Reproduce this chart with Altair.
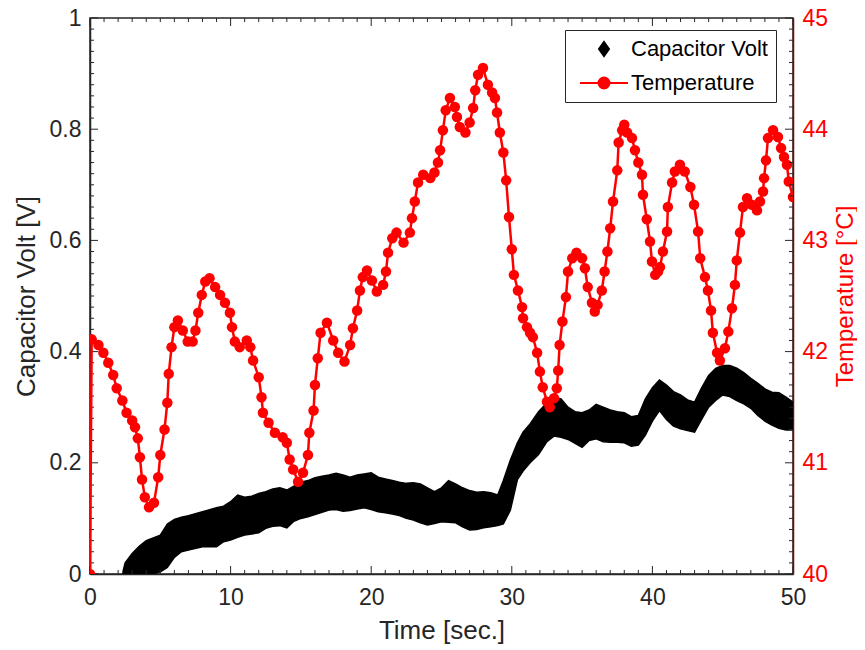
import altair as alt
import pandas as pd

# ---------------- data ----------------
temp_t = [0.0, 0.12, 0.6, 0.95, 1.3, 1.65, 1.9, 2.3, 2.6, 3.0, 3.2, 3.4, 3.55, 3.7, 3.9, 4.2, 4.55, 4.85, 5.0, 5.3,
          5.5, 5.6, 5.8, 6.0, 6.25, 6.6, 6.95, 7.3, 7.5, 7.7, 7.95, 8.2, 8.5, 8.9, 9.25, 9.6, 9.95, 10.1, 10.3, 10.65,
          11.15, 11.4, 11.6, 12.0, 12.2, 12.3, 12.7, 13.15, 13.7, 14.0, 14.2, 14.45, 14.8, 15.15, 15.5, 15.6, 15.9, 16.0, 16.2, 16.4,
          16.85, 17.3, 17.65, 18.1, 18.5, 18.7, 19.0, 19.2, 19.4, 19.7, 20.05, 20.4, 20.85, 21.05, 21.2, 21.5, 21.8, 22.3, 22.75, 22.9,
          23.1, 23.33, 23.7, 24.2, 24.5, 24.75, 24.9, 25.1, 25.3, 25.6, 25.95, 26.1, 26.3, 26.7, 27.0, 27.25, 27.4, 27.6, 27.95, 28.3,
          28.6, 28.8, 28.95, 29.15, 29.4, 29.6, 29.8, 30.0, 30.15, 30.44, 30.73, 30.8, 31.08, 31.3, 31.5, 31.8, 32.0, 32.2, 32.5, 32.7,
          33.0, 33.2, 33.3, 33.4, 33.6, 33.85, 34.0, 34.3, 34.6, 35.0, 35.2, 35.4, 35.7, 35.9, 36.1, 36.4, 36.6, 36.8, 37.0, 37.2,
          37.5, 37.6, 37.85, 38.0, 38.2, 38.55, 38.76, 39.0, 39.26, 39.33, 39.6, 39.83, 39.97, 40.2, 40.4, 40.54, 40.75, 41.04, 41.1, 41.4,
          41.6, 41.96, 42.3, 42.7, 42.96, 43.25, 43.4, 43.74, 43.95, 44.17, 44.3, 44.6, 44.8, 45.16, 45.4, 45.66, 45.87, 46.0, 46.23, 46.44,
          46.73, 47.08, 47.44, 47.65, 47.87, 47.94, 48.08, 48.22, 48.58, 48.93, 49.15, 49.36, 49.57, 49.7, 50.0]
temp_c = [40.0, 42.11, 42.06, 41.99, 41.9, 41.79, 41.67, 41.56, 41.45, 41.38, 41.32, 41.22, 41.05, 40.85, 40.69, 40.6, 40.64, 40.87, 41.07, 41.3,
          41.54, 41.8, 42.04, 42.22, 42.28, 42.19, 42.09, 42.09, 42.19, 42.35, 42.51, 42.63, 42.66, 42.58, 42.51, 42.44, 42.35, 42.22, 42.09, 42.04,
          42.1, 42.04, 41.92, 41.77, 41.59, 41.45, 41.36, 41.27, 41.23, 41.18, 41.03, 40.94, 40.83, 40.91, 41.07, 41.27, 41.47, 41.7, 41.94, 42.17,
          42.26, 42.1, 41.99, 41.91, 42.06, 42.21, 42.37, 42.55, 42.67, 42.73, 42.64, 42.54, 42.6, 42.72, 42.89, 43.02, 43.07, 42.98, 43.07, 43.2,
          43.35, 43.52, 43.59, 43.56, 43.61, 43.7, 43.81, 43.99, 44.17, 44.28, 44.2, 44.11, 44.02, 43.97, 44.06, 44.19, 44.35, 44.49, 44.55, 44.4,
          44.33, 44.28, 44.15, 43.97, 43.79, 43.54, 43.21, 42.92, 42.69, 42.55, 42.4, 42.3, 42.22, 42.17, 42.13, 41.99, 41.82, 41.68, 41.55, 41.5,
          41.58, 41.67, 41.83, 42.06, 42.27, 42.49, 42.72, 42.84, 42.89, 42.84, 42.75, 42.58, 42.44, 42.36, 42.42, 42.55, 42.72, 42.9, 43.11, 43.35,
          43.63, 43.88, 43.99, 44.04, 43.97, 43.92, 43.81, 43.7, 43.59, 43.41, 43.19, 42.99, 42.81, 42.69, 42.72, 42.76, 42.9, 43.08, 43.3, 43.52,
          43.62, 43.68, 43.62, 43.48, 43.32, 43.08, 42.84, 42.67, 42.55, 42.37, 42.17, 41.99, 41.92, 42.03, 42.18, 42.39, 42.6, 42.82, 43.07, 43.3,
          43.38, 43.32, 43.27, 43.35, 43.44, 43.56, 43.72, 43.92, 43.99, 43.93, 43.83, 43.75, 43.68, 43.53, 43.39]

volt_t = [2.35, 2.5, 3.0, 3.5, 4.0, 4.5, 5.0, 5.5, 6.0, 6.5, 7.0, 8.0, 9.0, 9.5, 10.0, 10.5, 11.0, 11.5, 12.0, 12.5,
          13.0, 13.5, 14.0, 14.5, 15.0, 15.5, 16.0, 16.5, 17.0, 17.5, 18.0, 18.5, 19.0, 19.5, 20.0, 20.5, 21.0, 21.5, 22.0, 22.5,
          23.0, 23.5, 24.0, 24.5, 25.0, 25.5, 26.0, 26.5, 27.0, 27.5, 28.0, 28.5, 29.0, 29.4, 29.9, 30.4, 30.8, 31.3, 31.9, 32.5,
          33.0, 33.5, 34.0, 34.5, 35.0, 35.5, 36.0, 36.5, 37.0, 37.5, 38.0, 38.5, 39.0, 39.5, 40.0, 40.5, 41.0, 41.5, 42.0, 42.5,
          43.0, 43.5, 44.0, 44.5, 45.0, 45.5, 46.0, 46.5, 47.0, 47.5, 48.0, 48.5, 49.0, 49.5, 50.0]
volt_high = [0.005, 0.02, 0.037, 0.05, 0.06, 0.065, 0.07, 0.09, 0.098, 0.102, 0.105, 0.112, 0.119, 0.122, 0.13, 0.142, 0.138, 0.14, 0.145, 0.148,
             0.153, 0.155, 0.151, 0.158, 0.165, 0.168, 0.173, 0.176, 0.178, 0.181, 0.178, 0.174, 0.178, 0.18, 0.182, 0.174, 0.171, 0.168, 0.165, 0.163,
             0.164, 0.162, 0.155, 0.148, 0.155, 0.168, 0.162, 0.155, 0.15, 0.147, 0.148, 0.146, 0.142, 0.168, 0.205, 0.236, 0.255, 0.27, 0.292, 0.308,
             0.318, 0.315, 0.3, 0.292, 0.29, 0.295, 0.305, 0.3, 0.295, 0.292, 0.29, 0.283, 0.285, 0.315, 0.335, 0.349, 0.34, 0.328, 0.322, 0.313,
             0.309, 0.335, 0.357, 0.37, 0.375, 0.375, 0.37, 0.362, 0.352, 0.343, 0.333, 0.327, 0.326, 0.318, 0.309]
volt_low = [0.0, 0.0, 0.0, 0.0, 0.0, 0.0, 0.004, 0.012, 0.03, 0.04, 0.043, 0.049, 0.049, 0.058, 0.061, 0.066, 0.07, 0.072, 0.074, 0.082,
            0.086, 0.087, 0.083, 0.095, 0.1, 0.103, 0.107, 0.111, 0.115, 0.116, 0.113, 0.114, 0.117, 0.119, 0.116, 0.112, 0.11, 0.108, 0.105, 0.1,
            0.097, 0.092, 0.088, 0.091, 0.094, 0.093, 0.092, 0.085, 0.079, 0.08, 0.083, 0.085, 0.087, 0.09, 0.115, 0.17, 0.185, 0.2, 0.215, 0.238,
            0.248, 0.246, 0.242, 0.235, 0.228, 0.24, 0.243, 0.238, 0.237, 0.237, 0.236, 0.23, 0.232, 0.25, 0.275, 0.294, 0.278, 0.266, 0.261, 0.258,
            0.255, 0.278, 0.3, 0.312, 0.322, 0.319, 0.312, 0.306, 0.298, 0.285, 0.275, 0.268, 0.262, 0.259, 0.259]

series_names = ["Capacitor Volt", "Temperature"]

x_major = [0, 10, 20, 30, 40, 50]
x_minor = [1, 2, 3, 4, 5, 6, 7, 8, 9, 11, 12, 13, 14, 15, 16, 17, 18, 19, 21, 22, 23, 24, 25, 26, 27, 28, 29,
           31, 32, 33, 34, 35, 36, 37, 38, 39, 41, 42, 43, 44, 45, 46, 47, 48, 49]
v_major = [0, 0.2, 0.4, 0.6, 0.8, 1.0]
v_minor = [round(0.02 * i, 2) for i in range(51) if i % 10]
c_major = [40, 41, 42, 43, 44, 45]
c_minor = [round(40 + 0.1 * i, 1) for i in range(51) if i % 10]

# ---------------- layout / style ----------------
W, H = 703, 556
FONT = "Liberation Sans"
INK = "#262626"
RED = "#FF0000"

xscale = alt.Scale(domain=[0, 50], nice=False, zero=False)
vscale = alt.Scale(domain=[0, 1], nice=False, zero=False)
cscale = alt.Scale(domain=[40, 45], nice=False, zero=False)

x_axis = alt.Axis(title="Time [sec.]", values=x_major, format="d", labelPadding=12, titlePadding=8,
                  labelFlush=False, domainColor=INK)
v_axis = alt.Axis(title="Capacitor Volt [V]", orient="left", values=v_major, format=".1~f",
                  labelPadding=9, titlePadding=10, labelFlush=False, domainColor=INK)
c_axis = alt.Axis(title="Temperature [°C]", orient="right", values=c_major, format="d",
                  labelColor=RED, titleColor=RED, titleAngle=270, titleBaseline="top",
                  titleFontSize=24, domainColor="#8a0000",
                  labelPadding=9, titlePadding=6, labelFlush=False)

volt_df = pd.DataFrame({"t": volt_t, "low": volt_low, "high": volt_high})
temp_df = pd.DataFrame({"t": temp_t, "temp": temp_c})

area = alt.Chart(volt_df).mark_area(color="black", clip=True, stroke="black", strokeWidth=1.5).encode(
    x=alt.X("t:Q", scale=xscale, axis=x_axis),
    y=alt.Y("low:Q", scale=vscale, axis=v_axis),
    y2="high:Q",
)


def xticks(values, length, top):
    df = pd.DataFrame({"t": values})
    y0 = 0 if top else H
    y1 = length if top else H - length
    return alt.Chart(df).mark_rule(color=INK, strokeWidth=1).encode(
        x=alt.X("t:Q", scale=xscale, axis=x_axis), y=alt.value(y0), y2=alt.value(y1))


def yticks(values, field, scale, axis, length, right, color):
    df = pd.DataFrame({field: values})
    x0 = W if right else 0
    x1 = W - length if right else length
    return alt.Chart(df).mark_rule(color=color, strokeWidth=1).encode(
        y=alt.Y(f"{field}:Q", scale=scale, axis=axis), x=alt.value(x0), x2=alt.value(x1))


left_group = alt.layer(
    area,
    xticks(x_major, 8, False), xticks(x_minor, 4, False),
    xticks(x_major, 8, True), xticks(x_minor, 4, True),
    yticks(v_major, "low", vscale, v_axis, 8, False, INK), yticks(v_minor, "low", vscale, v_axis, 4, False, INK),
)

temp_line = alt.Chart(temp_df).mark_line(color=RED, strokeWidth=2.5, clip=True).encode(
    x=alt.X("t:Q", scale=xscale, axis=x_axis),
    y=alt.Y("temp:Q", scale=cscale, axis=c_axis),
)
temp_pts = alt.Chart(temp_df).mark_circle(color=RED, size=110, opacity=1, clip=True).encode(
    x=alt.X("t:Q", scale=xscale, axis=x_axis),
    y=alt.Y("temp:Q", scale=cscale, axis=c_axis),
)

right_group = alt.layer(
    temp_line, temp_pts,
    yticks(c_major, "temp", cscale, c_axis, 8, True, INK), yticks(c_minor, "temp", cscale, c_axis, 4, True, INK),
)

# legend-only layer (no rows drawn, legend built from the explicit scale domain)
diamond_path = "M0,-1.4L1,0L0,1.4L-1,0Z"
temp_path = "M-4.8,0L4.8,0M1.1,0A1.1,1.1,0,1,1,-1.1,0A1.1,1.1,0,1,1,1.1,0Z"
leg = alt.Legend(title=None, orient="none", legendX=475, legendY=12, symbolSize=100, symbolStrokeWidth=2,
                 symbolOpacity=1,
                 labelFont=FONT, labelFontSize=22, labelColor="black", strokeColor=INK, fillColor="white",
                 padding=8, rowPadding=12, symbolOffset=20, labelOffset=16, cornerRadius=0)
legend_df = pd.DataFrame({"series": series_names})
legend_layer = alt.Chart(legend_df).transform_filter("false").mark_point(
    filled=True, size=100, strokeWidth=2, opacity=1).encode(
    x=alt.value(0), y=alt.value(0),
    fill=alt.Fill("series:N", scale=alt.Scale(domain=series_names, range=["black", RED]), legend=leg),
    stroke=alt.Stroke("series:N", scale=alt.Scale(domain=series_names, range=["black", RED]), legend=leg),
    shape=alt.Shape("series:N", scale=alt.Scale(domain=series_names, range=[diamond_path, temp_path]), legend=leg),
)

chart = alt.layer(left_group, right_group, legend_layer).resolve_scale(y="independent").properties(
    width=W, height=H,
    padding={"left": 82, "top": 10, "right": 64, "bottom": 74},
    autosize=alt.AutoSizeParams(type="none"),
    background="white",
).configure_view(stroke=INK, strokeWidth=1.5).configure_axis(
    grid=False, ticks=False, labelFont=FONT, titleFont=FONT, labelFontSize=23, titleFontSize=26,
    titleFontWeight="normal", labelColor=INK, titleColor=INK, domainWidth=1.5,
)

chart.save("out.html", embed_options={"renderer": "svg", "actions": False})
